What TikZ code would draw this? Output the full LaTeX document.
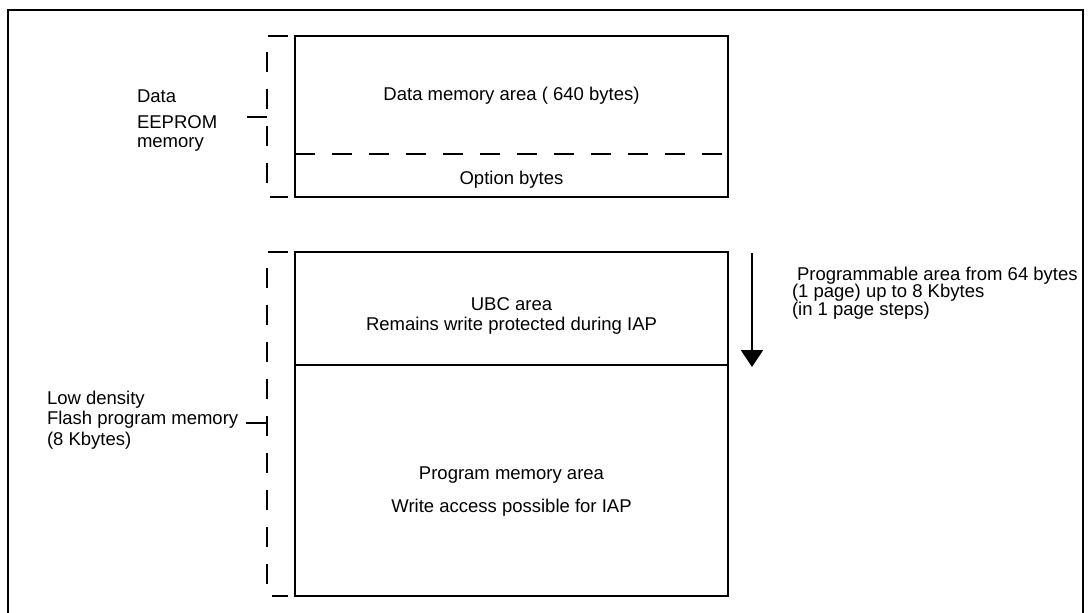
\documentclass[tikz,border=0pt]{standalone}
\usepackage{fontspec}
\setmainfont{Liberation Sans}
\usetikzlibrary{arrows.meta}

\begin{document}
\begin{tikzpicture}[x=1pt,y=-1pt,line width=2.4pt,
	txt/.style={inner sep=0,outer sep=0,font=\fontsize{18.5}{22}\selectfont},
	lbl/.style={txt,anchor=base west},
	ctr/.style={txt,anchor=base},
	brk/.style={dash pattern=on 20pt off 17pt}]
	\useasboundingbox (0,0) rectangle (1088,613);
	\draw[line width=2.8pt] (8,613) -- (8,10) -- (1083,10) -- (1083,613);
	% data EEPROM
	\draw (295,36) rectangle (728,197);
	\draw[brk] (295,154) -- (728,154);
	\draw[brk] (288,36) -- (267,36) -- (267,197) -- (288,197);
	\coordinate (eepromtick) at (267,117);
	\draw (eepromtick) -- ++(-20,0);
	\node[ctr] (datamem) at (511.5,100) {Data memory area ( 640 bytes)};
	\node[ctr] (optbytes) at (511.5,184) {Option bytes};
	\node[lbl] (data1) at (137,102) {Data};
	\node[lbl] (data2) at (137,128) {EEPROM};
	\node[lbl] (data3) at (137,147) {memory};
	% flash
	\draw (295,252) rectangle (728,596);
	\draw (295,365) -- (728,365);
	\draw[brk] (288,252) -- (267,252) -- (267,596) -- (288,596);
	\coordinate (flashtick) at (267,423);
	\draw (flashtick) -- ++(-21,0);
	\node[ctr] (ubc1) at (511.5,310) {UBC area};
	\node[ctr] (ubc2) at (511.5,330) {Remains write protected during IAP};
	\node[ctr] (prog1) at (511.5,479) {Program memory area};
	\node[ctr] (prog2) at (511.5,512) {Write access possible for IAP};
	\node[lbl] (flash1) at (47,404) {Low density};
	\node[lbl] (flash2) at (47,424) {Flash program memory};
	\node[lbl] (flash3) at (47,445) {(8 Kbytes)};
	% UBC arrow
	\coordinate (arrtop) at (752,253);
	\coordinate (arrbot) at (752,367);
	\draw[-{Triangle[length=17pt,width=22pt]}] (arrtop) -- (arrbot);
	\node[lbl] (range1) at (797,280) {Programmable area from 64 bytes};
	\node[lbl] (range2) at (792,297) {(1 page) up to 8 Kbytes};
	\node[lbl] (range3) at (792,315) {(in 1 page steps)};
\end{tikzpicture}
\end{document}
